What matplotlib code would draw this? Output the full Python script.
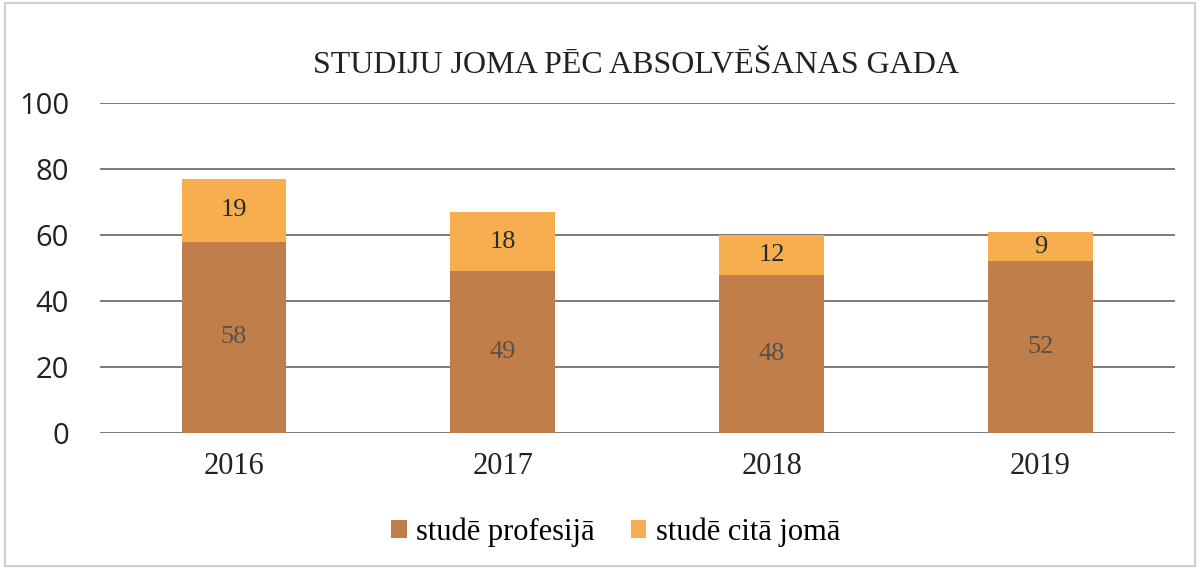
import matplotlib
matplotlib.use("Agg")
import matplotlib.pyplot as plt
from matplotlib.patches import Rectangle

years = ["2016", "2017", "2018", "2019"]
profesija = [58, 49, 48, 52]
cita_joma = [19, 18, 12, 9]
series_names = ["studē profesijā", "studē citā jomā"]
title = "STUDIJU JOMA PĒC ABSOLVĒŠANAS GADA"
yticks = [0, 20, 40, 60, 80, 100]

c_bottom = "#C07E4B"
c_top = "#F6AE4F"
serif = "Liberation Serif"
sans = "Open Sans"

fig = plt.figure(figsize=(12, 5.68), dpi=100)
ax = fig.add_axes([0.083, 0.2377, 0.896, 0.581])

x = range(len(years))
b1 = ax.bar(x, profesija, width=0.39, color=c_bottom, label=series_names[0], zorder=2)
b2 = ax.bar(x, cita_joma, width=0.39, bottom=profesija, color=c_top, label=series_names[1], zorder=2)

for i, (p, c) in enumerate(zip(profesija, cita_joma)):
    ax.text(i, p / 2, str(p), ha="center", va="center", fontsize=19,
            family=serif, color="#5a5048", zorder=3)
    ax.text(i, p + c / 2, str(c), ha="center", va="center", fontsize=19,
            family=serif, color="#2a2a2a", zorder=3)

ax.set_ylim(0, 100)
ax.set_xlim(-0.5, len(years) - 0.5)
ax.set_yticks(yticks)
ax.set_yticklabels([str(v) for v in yticks], family=sans, fontsize=21, color="#222222")
ax.set_xticks(list(x))
ax.set_xticklabels(years, family=serif, fontsize=22, color="#222222")
ax.tick_params(axis="both", length=0)
ax.tick_params(axis="y", pad=22)
ax.tick_params(axis="x", pad=14)
ax.yaxis.grid(True, color="#7a7a7a", linewidth=1.4, zorder=0)
for s in ax.spines.values():
    s.set_visible(False)

fig.text(0.53, 0.885, title, ha="center", va="center", family=serif, fontsize=23, color="#222222")

leg = fig.legend(handles=[b1, b2], labels=series_names, loc="center", bbox_to_anchor=(0.513, 0.063),
                 ncol=2, frameon=False, prop={"family": serif, "size": 22},
                 handlelength=0.5, handleheight=0.5, handletextpad=0.3, columnspacing=1.2)

fig.patches.append(Rectangle((0.004, 0.004), 0.992, 0.99, transform=fig.transFigure,
                             fill=False, edgecolor="#cfcfcf", linewidth=1.5))

fig.savefig("out.png", dpi=100)
